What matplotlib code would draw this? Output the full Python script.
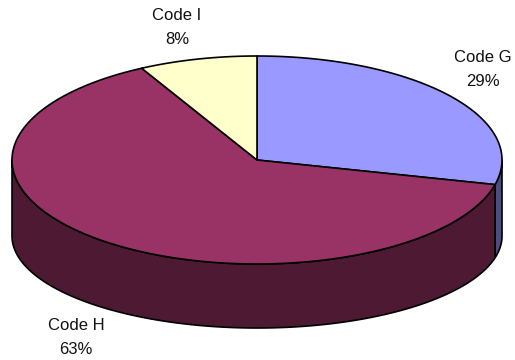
import numpy as np
import matplotlib
matplotlib.use("Agg")
import matplotlib.pyplot as plt
from matplotlib.patches import Polygon

categories = ["Code G", "Code H", "Code I"]
values = [28.8, 63.4, 7.8]
top_colors = ["#9999FF", "#993366", "#FFFFCC"]
side_colors = ["#4C4C80", "#4D1933", "#808066"]

W, H = 515, 360
cx, cy, rx, ry = 257, 160, 245, 104
bottom_cy, bottom_ry = 236, 92
label_pos = [(483, 69), (76, 337), (177, 28)]

plt.rcParams["font.family"] = "Liberation Sans"
fig = plt.figure(figsize=(W / 100, H / 100), dpi=100)
ax = fig.add_axes([0, 0, 1, 1])
ax.set_xlim(0, W)
ax.set_ylim(H, 0)
ax.axis("off")


def rim(t0, t1, c=cy, r=ry, n=200):
    t = np.linspace(t0, t1, n)
    return np.column_stack([cx + rx * np.sin(t), c - r * np.cos(t)])


fractions = np.cumsum([0] + values) / sum(values) * 2 * np.pi
edge = dict(edgecolor="black", linewidth=1.2, joinstyle="round")

# Side walls: visible only on the front half of the ellipse
for i in range(len(values)):
    a0, a1 = max(fractions[i], np.pi / 2), min(fractions[i + 1], 3 * np.pi / 2)
    if a1 > a0:
        pts = np.vstack([rim(a0, a1), rim(a1, a0, bottom_cy, bottom_ry)])
        ax.add_patch(Polygon(pts, closed=True, facecolor=side_colors[i], **edge))

# Top wedges
for i in range(len(values)):
    pts = np.vstack([[cx, cy], rim(fractions[i], fractions[i + 1])])
    ax.add_patch(Polygon(pts, closed=True, facecolor=top_colors[i], **edge))

for name, val, (x, y) in zip(categories, values, label_pos):
    ax.text(x, y, f"{name}\n{val:.0f}%", ha="center", va="center", fontsize=12,
            color="#111111", linespacing=1.75)

fig.savefig("out.png", dpi=100, facecolor="white")
